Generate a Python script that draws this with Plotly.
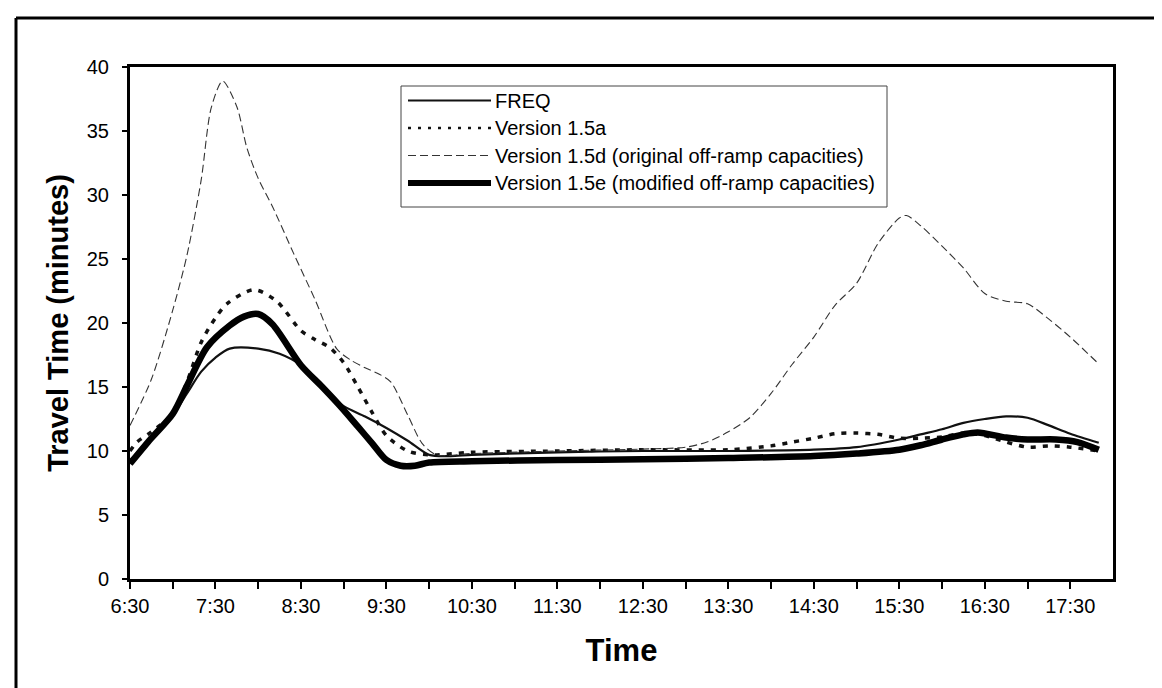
import plotly.graph_objects as go

# ---------------- data ----------------
tick_labels = ["6:30", "7:30", "8:30", "9:30", "10:30", "11:30",
               "12:30", "13:30", "14:30", "15:30", "16:30", "17:30"]

series_names = ["FREQ", "Version 1.5a",
                "Version 1.5d (original off-ramp capacities)",
                "Version 1.5e (modified off-ramp capacities)"]

freq_times = ["6:30", "6:45", "7:00", "7:10", "7:20", "7:30", "7:40", "8:00", "8:15", "8:30",
              "8:45", "9:00", "9:15", "9:30", "9:45", "10:00", "10:15", "10:30", "11:30",
              "12:30", "13:30", "14:30", "15:00", "15:30", "15:45", "16:00", "16:15", "16:30",
              "16:45", "17:00", "17:15", "17:30", "17:50"]
freq_vals = [9.3, 11.0, 12.8, 14.5, 16.2, 17.3, 18.0, 18.0, 17.6, 16.7,
             14.9, 13.5, 12.7, 11.8, 10.8, 9.7, 9.6, 9.7, 9.9,
             10.0, 10.0, 10.1, 10.3, 10.9, 11.3, 11.7, 12.2, 12.5,
             12.7, 12.6, 12.0, 11.35, 10.65]

v15a_times = ["6:30", "6:35", "6:45", "7:00", "7:10", "7:20", "7:30", "7:38", "7:57", "8:13",
              "8:30", "8:40", "8:50", "9:00", "9:10", "9:20", "9:30", "9:45", "10:00", "10:30",
              "11:30", "12:30", "13:30", "14:00", "14:15", "14:30", "14:45", "15:00", "15:15",
              "15:30", "15:45", "16:00", "16:15", "16:30", "16:45", "17:00", "17:15", "17:30",
              "17:50"]
v15a_vals = [10.0, 10.7, 11.5, 12.9, 15.4, 18.5, 20.4, 21.5, 22.6, 21.7,
             19.4, 18.7, 18.1, 16.9, 15.0, 13.0, 11.2, 10.0, 9.7, 9.9,
             10.0, 10.1, 10.1, 10.4, 10.7, 11.0, 11.35, 11.4, 11.3,
             11.0, 11.0, 11.1, 11.4, 11.2, 10.7, 10.3, 10.4, 10.3,
             10.0]

v15d_times = ["6:30", "6:45", "7:00", "7:10", "7:20", "7:27", "7:35", "7:45", "7:52", "8:00",
              "8:10", "8:25", "8:40", "8:55", "9:05", "9:15", "9:25", "9:33", "9:45", "9:55",
              "10:05", "10:30", "11:30", "12:30", "13:00", "13:15", "13:30", "13:45", "14:00",
              "14:15", "14:30", "14:45", "15:00", "15:15", "15:30", "15:35", "15:45", "16:00",
              "16:15", "16:30", "16:45", "17:00", "17:15", "17:30", "17:50"]
v15d_vals = [12.0, 15.6, 21.0, 25.3, 31.2, 36.8, 38.9, 36.9, 33.7, 31.3,
             29.1, 25.4, 21.8, 18.0, 17.1, 16.5, 16.0, 15.4, 12.8, 10.6,
             9.7, 9.8, 10.0, 10.15, 10.3, 10.7, 11.5, 12.6, 14.5,
             16.8, 18.9, 21.4, 23.1, 26.2, 28.2, 28.4, 27.6, 26.0,
             24.3, 22.3, 21.7, 21.5, 20.3, 18.9, 16.8]

v15e_times = ["6:30", "6:45", "7:00", "7:10", "7:24", "7:40", "7:50", "8:00", "8:10", "8:30",
              "8:45", "9:00", "9:10", "9:20", "9:30", "9:40", "9:50", "10:00", "10:30", "11:30",
              "12:30", "13:30", "14:30", "15:00", "15:30", "15:45", "16:00", "16:15", "16:25",
              "16:45", "17:00", "17:20", "17:35", "17:50"]
v15e_vals = [9.0, 11.0, 12.9, 15.1, 18.1, 19.8, 20.5, 20.7, 19.9, 16.7,
             15.0, 13.2, 11.9, 10.6, 9.3, 8.85, 8.85, 9.1, 9.2, 9.3,
             9.35, 9.45, 9.6, 9.8, 10.1, 10.45, 10.9, 11.3, 11.45,
             11.05, 10.9, 10.9, 10.7, 10.1]


def to_min(s):
    h, m = s.split(":")
    return int(h) * 60 + int(m)


# ---------------- styles ----------------
FONT = "Arial, 'Liberation Sans', sans-serif"
styles = [
    dict(color="#111111", width=2.2, dash="solid"),
    dict(color="#111111", width=3.5, dash="5px,7px"),
    dict(color="#333333", width=1.1, dash="8px,4px"),
    dict(color="#000000", width=6.5, dash="solid"),
]
legend_sample_styles = [
    dict(color="#111111", width=2.2, dash="solid"),
    dict(color="#111111", width=2.5, dash="3px,7px"),
    dict(color="#333333", width=1.1, dash="8px,4px"),
    dict(color="#000000", width=6, dash="solid"),
]

all_times = [freq_times, v15a_times, v15d_times, v15e_times]
all_vals = [freq_vals, v15a_vals, v15d_vals, v15e_vals]

fig = go.Figure()
for name, t, v, st in zip(series_names, all_times, all_vals, styles):
    fig.add_trace(go.Scatter(
        x=[to_min(s) for s in t], y=v, mode="lines", name=name,
        line=dict(color=st["color"], width=st["width"], dash=st["dash"],
                  shape="spline", smoothing=0.8),
        showlegend=False, hoverinfo="skip"))

# tick positions every half hour, labels at the :30 marks
start, end = to_min("6:30"), to_min("18:00")
tickvals = list(range(start, to_min("17:30") + 1, 30))
ticktext = []
for i, tv in enumerate(tickvals):
    ticktext.append(tick_labels[i // 2] if i % 2 == 0 else "")

W, H = 1162, 688
L, R, T, B = 122, 57, 59, 117
PW, PH = W - L - R, H - T - B


def xp(px):
    return (px - L) / PW


def yp(py):
    return (H - B - py) / PH


fig.update_layout(
    width=W, height=H,
    margin=dict(l=L, r=R, t=T, b=B),
    paper_bgcolor="white", plot_bgcolor="white",
    font=dict(family=FONT, color="#000000", size=20),
    xaxis=dict(
        range=[start, end], tickvals=tickvals, ticktext=ticktext,
        ticks="outside", ticklen=7, tickwidth=2, tickcolor="#000",
        showline=True, linewidth=3, linecolor="#000", mirror=True,
        showgrid=False, zeroline=False,
        tickfont=dict(size=20, family=FONT),
        title=dict(text="<b>Time</b>", font=dict(size=31, family=FONT), standoff=24),
    ),
    xaxis2=dict(
        overlaying="x", matches="x", anchor="y", side="bottom",
        range=[start, end], tickvals=tickvals,
        ticks="inside", ticklen=6, tickwidth=2, tickcolor="#000",
        showticklabels=False, showline=False, showgrid=False, zeroline=False,
    ),
    yaxis=dict(
        range=[0, 40], dtick=5, tick0=0,
        ticks="outside", ticklen=5, tickwidth=1.5, tickcolor="#000",
        showline=True, linewidth=3, linecolor="#000", mirror=True,
        showgrid=False, zeroline=False,
        tickfont=dict(size=20, family=FONT), ticklabelstandoff=9,
        title=dict(text="<b>Travel Time (minutes)</b>", font=dict(size=29, family=FONT),
                   standoff=10),
    ),
)

shapes = []
# outer frame (left and top edges visible)
shapes.append(dict(type="line", xref="paper", yref="paper",
                   x0=xp(8), x1=xp(8), y0=yp(H + 20), y1=yp(10),
                   line=dict(color="#000", width=3)))
shapes.append(dict(type="line", xref="paper", yref="paper",
                   x0=xp(8), x1=xp(W + 20), y0=yp(10), y1=yp(10),
                   line=dict(color="#000", width=3)))
# legend box
shapes.append(dict(type="rect", xref="paper", yref="paper",
                   x0=xp(393), x1=xp(879), y0=yp(199), y1=yp(78),
                   line=dict(color="#444", width=1), fillcolor="white", layer="above"))
rows = [92.5, 120, 147.5, 175]
annotations = []
for name, st, ry in zip(series_names, legend_sample_styles, rows):
    shapes.append(dict(type="line", xref="paper", yref="paper",
                       x0=xp(400), x1=xp(483), y0=yp(ry), y1=yp(ry),
                       line=dict(color=st["color"], width=st["width"], dash=st["dash"]),
                       layer="above"))
    annotations.append(dict(xref="paper", yref="paper", x=xp(485), y=yp(ry),
                            xanchor="left", yanchor="middle", showarrow=False,
                            text=name, font=dict(size=20, family=FONT, color="#000")))

fig.update_layout(shapes=shapes, annotations=annotations)

fig.write_html("out.html")
